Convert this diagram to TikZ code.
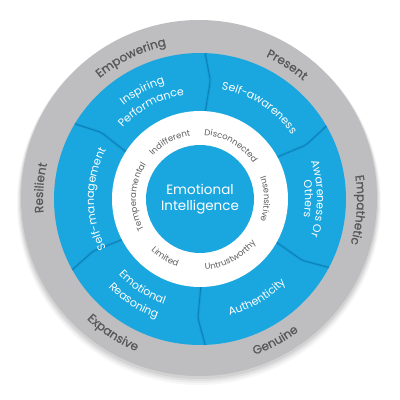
\documentclass[tikz,border=0pt]{standalone}
\usepackage{fontspec}
\setmainfont{Poppins}
\newfontfamily\graylabel[FakeBold=0.8]{Poppins}
\usetikzlibrary{decorations.text}
\definecolor{eiblue}{HTML}{1AA7E0}
\definecolor{ringgray}{HTML}{BEBEC0}
\definecolor{graytext}{HTML}{58585A}
\definecolor{wtext}{HTML}{5E5E60}
\definecolor{divblue}{HTML}{0C7FB8}
% clockwise arc text (letter tops outward)
\newcommand\cwtext[5]{\path[decorate,decoration={text along path,text align=center,text color=#4,text={|\fontsize{#3}{#3}\selectfont|#5}}] (#1+80:#2) arc[start angle=#1+80,end angle=#1-80,radius=#2];}
% counter-clockwise arc text (letter tops inward)
\newcommand\ccwtext[5]{\path[decorate,decoration={text along path,text align=center,text color=#4,text={|\fontsize{#3}{#3}\selectfont|#5}}] (#1-80:#2) arc[start angle=#1-80,end angle=#1+80,radius=#2];}
\newcommand\cwgray[3]{\path[decorate,decoration={text along path,text align=center,text color=graytext,text={|\graylabel\fontsize{12}{12}\selectfont|#3}}] (#1+80:#2) arc[start angle=#1+80,end angle=#1-80,radius=#2];}
\newcommand\ccwgray[3]{\path[decorate,decoration={text along path,text align=center,text color=graytext,text={|\graylabel\fontsize{12}{12}\selectfont|#3}}] (#1-80:#2) arc[start angle=#1-80,end angle=#1+80,radius=#2];}
\tikzset{
  divline/.style={divblue,line width=0.9pt,rounded corners=2pt},
  divshade/.style={divblue,opacity=0.22,line width=3pt,rounded corners=3pt},
}
\begin{document}
\begin{tikzpicture}[x=1pt,y=1pt]
\fill[white] (0,0) rectangle (400,400);
\useasboundingbox (0,0) rectangle (400,400);
% soft shadow
\foreach \s/\o in {4/0.03,3/0.04,2/0.05,1/0.06}{
  \fill[black,opacity=\o] (199pt,{(201-\s)*1pt}) circle[radius={(178+\s)*1pt}];
}
\fill[ringgray] (199pt,202pt) circle[radius=178pt];
\begin{scope}[shift={(200pt,201pt)}]
\fill[eiblue] (0,0) circle[radius=146pt];
% dividers
\foreach \a in {88,30,-28,-88,-151,149}{
  \draw[divshade] (\a:146pt) -- (\a-3:119pt) -- (\a-1.5:88pt);
  \draw[divline] (\a:146pt) -- (\a-3:119pt) -- (\a-1.5:88pt);
}
\fill[white] (0,0) circle[radius=88pt];
\fill[eiblue] (0,0) circle[radius=54pt];
\node[text=white,align=center,font=\fontsize{13.5}{16}\selectfont] (ei) at (0,0) {Emotional\\Intelligence};
% outer gray ring labels
\cwgray{116}{157pt}{Empowering}
\cwgray{57}{157pt}{Present}
\cwgray{-4}{157pt}{Empathetic}
\cwgray{176}{157pt}{Resilient}
\ccwgray{-62}{165pt}{Genuine}
\ccwgray{-123}{165pt}{Expansive}
% blue ring labels
\cwtext{118}{121pt}{11}{white}{Inspiring}
\cwtext{118}{105pt}{11}{white}{Performance}
\cwtext{57}{112pt}{11}{white}{Self-awareness}
\cwtext{0}{117pt}{11}{white}{Awareness Or}
\cwtext{0}{105pt}{11}{white}{Others}
\ccwtext{-60}{120pt}{11}{white}{Authenticity}
\ccwtext{-123}{111pt}{11}{white}{Emotional}
\ccwtext{-123}{127pt}{11}{white}{Reasoning}
\cwtext{180}{106pt}{11}{white}{Self-management}
% white ring labels
\cwtext{118}{64pt}{8.5}{wtext}{Indifferent}
\cwtext{60}{64pt}{8.5}{wtext}{Disconnected}
\cwtext{0}{64pt}{8.5}{wtext}{Insensitive}
\cwtext{178}{64pt}{8.5}{wtext}{Temperamental}
\ccwtext{-62}{71pt}{8.5}{wtext}{Untrustworthy}
\ccwtext{-121}{71pt}{8.5}{wtext}{Limited}
\end{scope}
\end{tikzpicture}
\end{document}
